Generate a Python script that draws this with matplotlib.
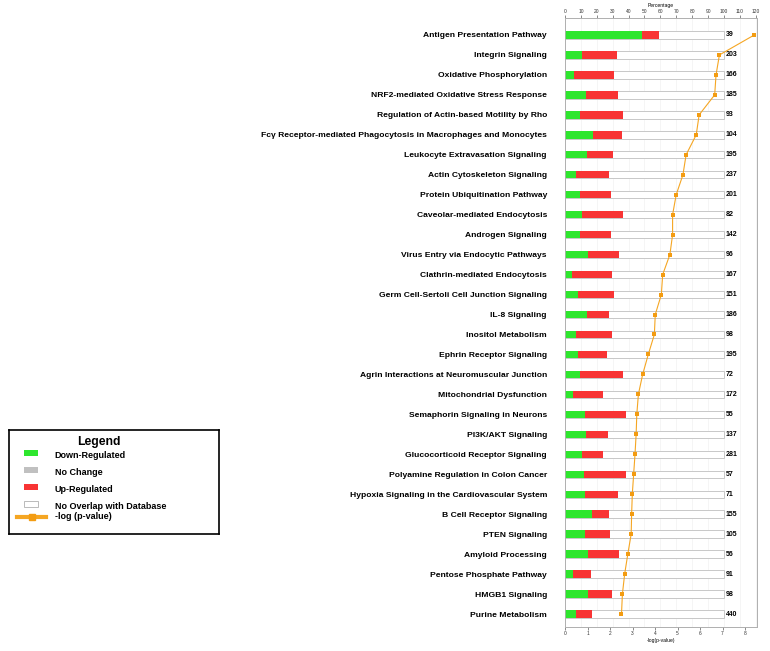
import numpy as np
import matplotlib
matplotlib.use("Agg")
import matplotlib.pyplot as plt
from matplotlib.patches import Rectangle
from matplotlib.lines import Line2D

plt.rcParams["font.family"] = ["Liberation Sans", "DejaVu Sans"]

# pathways, top to bottom
pathways = [
    "Antigen Presentation Pathway",
    "Integrin Signaling",
    "Oxidative Phosphorylation",
    "NRF2-mediated Oxidative Stress Response",
    "Regulation of Actin-based Motility by Rho",
    "Fc\u03b3 Receptor-mediated Phagocytosis in Macrophages and Monocytes",
    "Leukocyte Extravasation Signaling",
    "Actin Cytoskeleton Signaling",
    "Protein Ubiquitination Pathway",
    "Caveolar-mediated Endocytosis",
    "Androgen Signaling",
    "Virus Entry via Endocytic Pathways",
    "Clathrin-mediated Endocytosis",
    "Germ Cell-Sertoli Cell Junction Signaling",
    "IL-8 Signaling",
    "Inositol Metabolism",
    "Ephrin Receptor Signaling",
    "Agrin Interactions at Neuromuscular Junction",
    "Mitochondrial Dysfunction",
    "Semaphorin Signaling in Neurons",
    "PI3K/AKT Signaling",
    "Glucocorticoid Receptor Signaling",
    "Polyamine Regulation in Colon Cancer",
    "Hypoxia Signaling in the Cardiovascular System",
    "B Cell Receptor Signaling",
    "PTEN Signaling",
    "Amyloid Processing",
    "Pentose Phosphate Pathway",
    "HMGB1 Signaling",
    "Purine Metabolism",
]

# percent of pathway molecules down / up regulated
down_pct = [48.7, 10.9, 5.9, 13.5, 9.7, 17.4, 14.0, 6.9, 9.4, 10.9,
            9.2, 14.3, 4.6, 8.4, 14.0, 7.1, 8.0, 9.6, 5.2, 12.8,
            13.2, 10.7, 12.2, 12.8, 16.8, 12.6, 14.5, 5.2, 14.5, 6.7]
up_pct = [10.5, 21.6, 25.1, 19.9, 26.8, 18.2, 16.2, 20.7, 19.3, 25.6,
          19.5, 19.8, 24.8, 22.2, 13.7, 22.5, 18.6, 26.7, 18.5, 25.6,
          13.6, 13.4, 26.4, 20.8, 10.9, 15.7, 19.5, 11.0, 15.2, 10.3]
totals = [39, 203, 166, 185, 93, 104, 195, 237, 201, 82,
          142, 96, 167, 151, 186, 98, 195, 72, 172, 55,
          137, 281, 57, 71, 155, 105, 56, 91, 98, 440]
neg_log_p = [8.41, 6.86, 6.71, 6.65, 5.96, 5.83, 5.38, 5.24, 4.94, 4.78,
             4.78, 4.66, 4.34, 4.28, 4.01, 3.97, 3.70, 3.45, 3.26, 3.19,
             3.16, 3.11, 3.05, 2.99, 2.96, 2.94, 2.79, 2.65, 2.55, 2.51]

green = "#2EE62E"
red = "#F83434"
orange = "#F5A623"

W, H = 770, 651
fig = plt.figure(figsize=(W / 100, H / 100), dpi=100)
ax = fig.add_axes([565 / W, 1 - 627 / H, 192 / W, 609 / H])
ax2 = ax.twiny()

y = np.arange(len(pathways))
bh = 0.37
ax.barh(y, [100] * len(y), height=bh, color="white", edgecolor="#C8C8C8", linewidth=0.7, zorder=2)
ax.barh(y, down_pct, height=bh, color=green, linewidth=0, zorder=3)
ax.barh(y, up_pct, left=down_pct, height=bh, color=red, linewidth=0, zorder=3)
for yi, n in zip(y, totals):
    ax.text(101.2, yi, str(n), va="center", ha="left", fontsize=5, fontweight="bold", zorder=4)

ax.set_xlim(0, 120.8)
ax.set_ylim(len(y) - 0.35, -0.85)
ax.set_xticks(np.arange(0, 121, 10))
ax.xaxis.tick_top()
ax.xaxis.set_label_position("top")
ax.set_xlabel("Percentage", fontsize=3.6, labelpad=1)
ax.tick_params(axis="x", labelsize=3.5, length=2, width=0.4, pad=1, colors="#333333")
ax.set_yticks(y)
ax.set_yticklabels(pathways, fontsize=6.1, fontweight="bold")
ax.tick_params(axis="y", length=0, pad=13)
ax.grid(axis="x", color="#F2F2F2", linewidth=0.5, zorder=0)
ax.set_axisbelow(True)
for s in ax.spines.values():
    s.set_color("#B0B0B0")
    s.set_linewidth(0.6)

# -log(p-value) on the bottom axis
ax2.plot(neg_log_p, y, color=orange, linewidth=0.8, marker="s", markersize=2.8,
         markerfacecolor="#F39C12", markeredgewidth=0, zorder=5)
ax2.set_xlim(0, 8.53)
ax2.set_ylim(ax.get_ylim())
ax2.xaxis.tick_bottom()
ax2.xaxis.set_label_position("bottom")
ax2.set_xticks(np.arange(0, 9, 1))
ax2.set_xlabel("-log(p-value)", fontsize=3.6, labelpad=1.5)
ax2.tick_params(axis="x", labelsize=3.5, length=2, width=0.4, pad=1, colors="#333333")
for s in ax2.spines.values():
    s.set_color("#B0B0B0")
    s.set_linewidth(0.6)

# legend box, laid out in pixel units
lax = fig.add_axes([9 / W, 1 - 534 / H, 210 / W, 104 / H])
lax.set_xlim(0, 210)
lax.set_ylim(104, 0)
lax.set_xticks([])
lax.set_yticks([])
for s in lax.spines.values():
    s.set_color("black")
    s.set_linewidth(1.2)
lax.text(90, 12.5, "Legend", ha="center", va="center", fontsize=8.8, fontweight="bold")
items = [("Down-Regulated", green, "none"), ("No Change", "#C0C0C0", "none"),
         ("Up-Regulated", red, "none"), ("No Overlap with Database", "white", "#B0B0B0")]
for k, (lab, fc, ec) in enumerate(items):
    yc = 23 + k * 17
    lax.add_patch(Rectangle((15, yc - 3), 14, 6, facecolor=fc, edgecolor=ec, linewidth=0.6))
    lax.text(45.7, yc + 2.5, lab, ha="left", va="center", fontsize=6.5, fontweight="bold")
lax.add_line(Line2D([8, 37], [86.7, 86.7], color=orange, linewidth=3))
lax.plot([22.5], [86.7], marker="s", markersize=4, color="#F39C12")
lax.text(45.7, 86.5, "-log (p-value)", ha="left", va="center", fontsize=6.5, fontweight="bold")

fig.savefig("out.png", dpi=100)
